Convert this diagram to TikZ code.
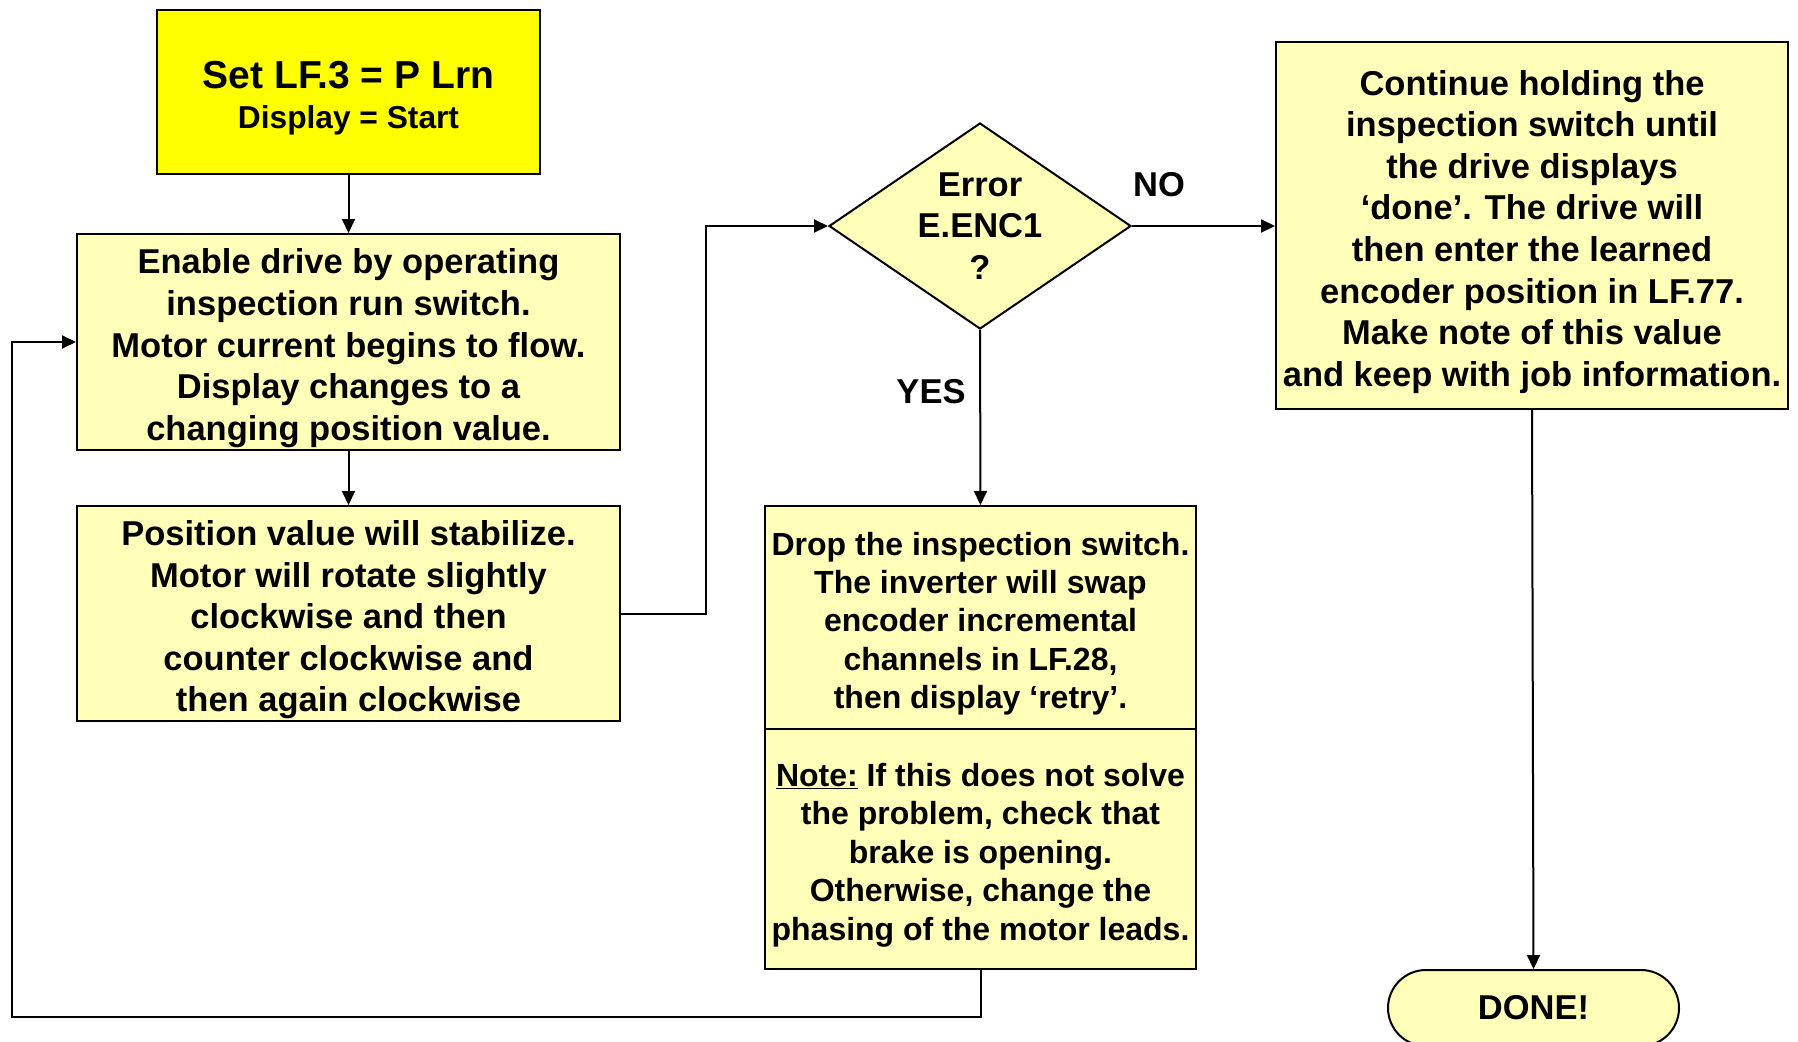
\documentclass[tikz,border=0pt]{standalone}
\usepackage{fontspec}
\setmainfont{Liberation Sans}
\usetikzlibrary{shapes.geometric,arrows.meta}
\definecolor{paleyellow}{HTML}{FFFFB9}
\definecolor{brightyellow}{HTML}{FFFF00}
\newcommand\flowfont{\fontsize{34.5}{41.6}\selectfont\bfseries}
\newcommand\dropfont{\fontsize{32}{38.4}\selectfont\bfseries}
% invisible struts that lift the top of a text block, pushing the lines down a little
\newcommand\flowtop{\rule{0pt}{37.5pt}}
\newcommand\droptop{\rule{0pt}{35.5pt}}
\newcommand\starttop{\rule{0pt}{40pt}}
\begin{document}
\begin{tikzpicture}[x=1pt,y=-1pt,
  box/.style={draw=black, line width=2pt, fill=paleyellow, rectangle,
    inner sep=0pt, align=center, font=\flowfont},
  startbox/.style={box, fill=brightyellow},
  decision/.style={draw=black, line width=2pt, fill=paleyellow, diamond,
    inner sep=0pt},
  terminal/.style={box, rounded corners=38pt},
  arr/.style={line width=2pt, -{Triangle[length=14pt,width=13pt]}},
  lbl/.style={font=\flowfont, inner sep=0pt}]

% canvas
\fill[white] (0,0) rectangle (1798,1041);
\useasboundingbox (0,0) rectangle (1798,1041);

% process boxes
\node[startbox, minimum width=383pt, minimum height=164pt] (start) at (348.5,92)
  {\starttop{\fontsize{39}{44}\selectfont Set LF.3 = P Lrn}\\[-1.5pt]
   {\fontsize{31.7}{38}\selectfont Display = Start}};

\node[box, minimum width=543pt, minimum height=216pt] (enable) at (348.5,342)
  {\flowtop Enable drive by operating\\ inspection run switch.\\ Motor current begins to flow.\\
   Display changes to a\\ changing position value.};

\node[box, minimum width=543pt, minimum height=215pt] (position) at (348.5,613.5)
  {\flowtop Position value will stabilize.\\ Motor will rotate slightly\\ clockwise and then\\
   counter clockwise and\\ then again clockwise};

% decision
\node[decision, minimum width=302pt, minimum height=206pt,
  label={[lbl, align=center]center:Error\\ E.ENC1\\ ?}] (err) at (980,226) {};

% YES branch: two-part box
\node[box, font=\dropfont, minimum width=431pt, minimum height=223pt] (drop) at (980.5,617.5)
  {\droptop Drop the inspection switch.\\ The inverter will swap\\ encoder incremental\\
   channels in LF.28,\\ then display ‘retry’.};
\node[box, font=\dropfont, minimum width=431pt, minimum height=240pt] (note) at (980.5,849)
  {\droptop\underline{Note:} If this does not solve\\ the problem, check that\\ brake is opening.\\
   Otherwise, change the\\ phasing of the motor leads.};

% NO branch
\node[box, minimum width=512pt, minimum height=367pt] (cont) at (1532,225.5)
  {\flowtop Continue holding the\\ inspection switch until\\ the drive displays\\
   ‘done’. The drive will\\ then enter the learned\\ encoder position in LF.77.\\
   Make note of this value\\ and keep with job information.};

\node[terminal, minimum width=291pt, minimum height=76pt] (done) at (1533.5,1008) {DONE!};

% branch labels
\node[lbl] (nolbl) at (1159,185) {NO};
\node[lbl] (yeslbl) at (931,392) {YES};

% connectors
\coordinate (bend) at (706,613.5);
\coordinate (loopcorner) at (11.5,1017);

\draw[arr] (start.south) -- (enable.north);
\draw[arr] (enable.south) -- (position.north);
\draw[arr] (position.east) -- (bend) |- (err.west);
\draw[arr] (err.east) -- (err.east -| cont.west);
\draw[arr] (err.south) -- (drop.north);
\draw[arr] (cont.south) -- (done.north);
\draw[arr] (note.south) |- (loopcorner) |- (enable.west);
\end{tikzpicture}
\end{document}
